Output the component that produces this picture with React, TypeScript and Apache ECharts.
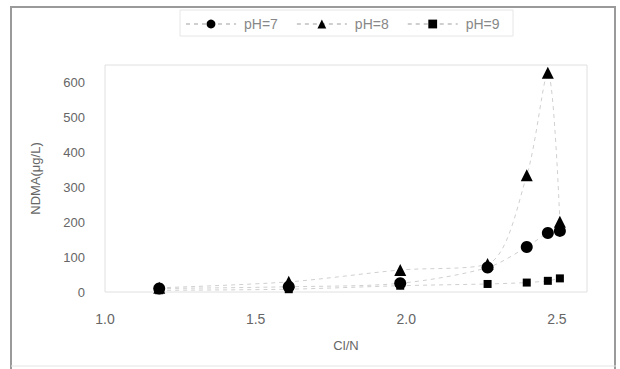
import React, { useEffect, useRef } from "react";
import * as echarts from "echarts";

const clN = [1.18, 1.61, 1.98, 2.27, 2.40, 2.47, 2.51];
const ph7 = [10, 15, 25, 70, 129, 169, 175];
const ph8 = [12, 29, 63, 80, 334, 628, 201];
const ph9 = [5, 8, 18, 23, 27, 32, 39];
const seriesNames = ["pH=7", "pH=8", "pH=9"];
const symbols = ["circle", "triangle", "rect"];
const symbolSizes = [12, 12, 8];

export default function App() {
  const ref = useRef<HTMLDivElement>(null);
  useEffect(() => {
    if (!ref.current) return;
    const chart = echarts.init(ref.current, undefined, { renderer: "svg" });
    const values = [ph7, ph8, ph9];
    const font = "Liberation Sans";
    chart.setOption({
      animation: false,
      textStyle: { fontFamily: font },
      graphic: [
        { type: "line", shape: { x1: 11, y1: 7, x2: 616, y2: 7 }, style: { stroke: "#9a9a9a", lineWidth: 2 } },
        { type: "line", shape: { x1: 11, y1: 6, x2: 11, y2: 369 }, style: { stroke: "#9a9a9a", lineWidth: 2 } },
        { type: "line", shape: { x1: 615, y1: 6, x2: 615, y2: 369 }, style: { stroke: "#9a9a9a", lineWidth: 2 } },
        { type: "line", shape: { x1: 11, y1: 366, x2: 616, y2: 366 }, style: { stroke: "#e4e4e4", lineWidth: 1 } },
        { type: "rect", shape: { x: 180, y: 10, width: 333, height: 26 }, style: { fill: "none", stroke: "#e6e6e6", lineWidth: 1 } },
      ],
      legend: {
        top: 12,
        left: 180,
        itemWidth: 50,
        itemHeight: 11,
        itemGap: 18,
        textStyle: { color: "#888", fontSize: 14, fontFamily: font, padding: [0, 0, 0, 3] },
        data: seriesNames,
      },
      grid: { left: 105, top: 65, right: 33, bottom: 77, show: true, borderColor: "#e0e0e0", borderWidth: 1 },
      xAxis: {
        type: "value",
        min: 1.0,
        max: 2.6,
        interval: 0.5,
        name: "Cl/N",
        nameLocation: "middle",
        nameGap: 47,
        nameTextStyle: { color: "#666", fontSize: 13 },
        axisLine: { show: false },
        axisTick: { show: false },
        splitLine: { show: false },
        axisLabel: {
          color: "#666",
          fontSize: 14,
          margin: 20,
          showMaxLabel: false,
          formatter: (v: number) => v.toFixed(1),
        },
      },
      yAxis: {
        type: "value",
        min: 0,
        max: 650,
        interval: 100,
        name: "NDMA(μg/L)",
        nameLocation: "middle",
        nameGap: 63,
        nameTextStyle: { color: "#666", fontSize: 13 },
        axisLine: { show: false },
        axisTick: { show: false },
        splitLine: { show: false },
        axisLabel: { color: "#666", fontSize: 13, margin: 20, showMaxLabel: false },
      },
      series: seriesNames.map((name, i) => ({
        name,
        type: "line",
        smooth: 0.3,
        symbol: symbols[i],
        symbolSize: symbolSizes[i],
        z: 10 - i,
        itemStyle: { color: "#000" },
        lineStyle: { color: "#cfcfcf", width: 1, type: [4, 4] },
        data: clN.map((x, j) => [x, values[i][j]]),
      })),
    });
    return () => chart.dispose();
  }, []);
  return <div ref={ref} style={{ width: 620, height: 369, position: "absolute", left: 0, top: 0 }} />;
}
